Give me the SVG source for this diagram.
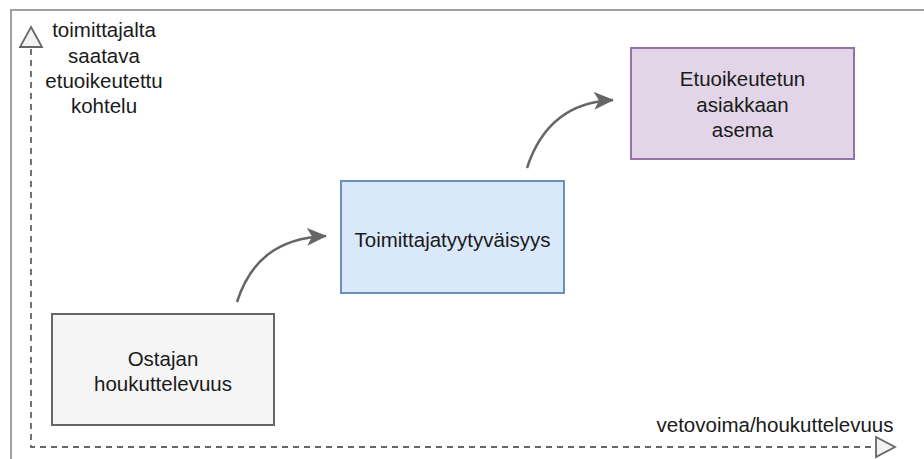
<svg xmlns="http://www.w3.org/2000/svg" width="924" height="459" viewBox="0 0 924 459">
<defs>
<style>
text{font-family:"Liberation Sans",Arial,sans-serif;font-size:20.5px;fill:#1a1a1a;text-anchor:middle}
.axis{fill:none;stroke:#666;stroke-width:1.8;stroke-dasharray:6 5}
.conn{fill:none;stroke:#666;stroke-width:2.5}
</style>
<marker id="arr" viewBox="0 0 20 18" refX="19" refY="9" markerWidth="20" markerHeight="18" markerUnits="userSpaceOnUse" orient="auto">
<path d="M0,0 L20,9 L0,18 L5,9 Z" fill="#666"/>
</marker>
</defs>
<rect x="0" y="0" width="924" height="459" fill="#fff"/>
<rect x="11" y="10" width="1000" height="1000" fill="none" stroke="#a0a0a0" stroke-width="2"/>
<g id="axes">
<path class="axis" d="M31,49 V447 H876"/>
<path d="M31,27 L42,47 L20,47 Z" fill="#f2f2f2" stroke="#666" stroke-width="1.8"/>
<path d="M876,437 L895,447 L876,457 Z" fill="#f2f2f2" stroke="#666" stroke-width="1.8"/>
<text x="104" y="37">toimittajalta</text>
<text x="104" y="63">saatava</text>
<text x="104" y="88">etuoikeutettu</text>
<text x="104" y="113">kohtelu</text>
<text x="775" y="432">vetovoima/houkuttelevuus</text>
</g>
<g id="n1">
<rect x="52" y="314" width="222" height="111" fill="#f5f5f5" stroke="#666" stroke-width="2"/>
<text x="163" y="366">Ostajan</text>
<text x="163" y="391">houkuttelevuus</text>
</g>
<g id="n2">
<rect x="341" y="181" width="223" height="112" fill="#dae8fc" stroke="#6c8ebf" stroke-width="2"/>
<text x="452.5" y="247">Toimittajatyytyväisyys</text>
</g>
<g id="n3">
<rect x="631" y="48" width="223" height="111" fill="#e1d5e7" stroke="#9673a6" stroke-width="2"/>
<text x="742.5" y="86">Etuoikeutetun</text>
<text x="742.5" y="112">asiakkaan</text>
<text x="742.5" y="137">asema</text>
</g>
<g id="connectors">
<path class="conn" d="M237,302 C250,262 276,238 326,236" marker-end="url(#arr)"/>
<path class="conn" d="M527,168 C540,128 566,102 613,100" marker-end="url(#arr)"/>
</g>
</svg>
